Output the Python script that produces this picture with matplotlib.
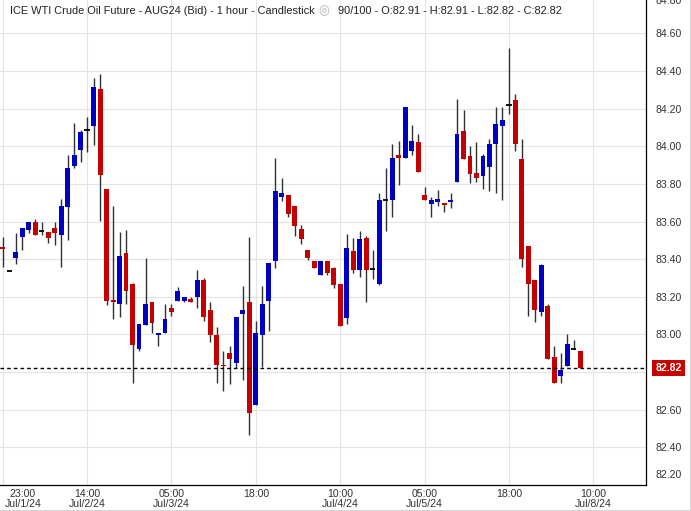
import matplotlib
matplotlib.use("Agg")
import matplotlib.pyplot as plt
import numpy as np
from matplotlib.lines import Line2D
from matplotlib import transforms

plt.rcParams['font.family'] = ['Liberation Sans', 'DejaVu Sans']

# ---- data (hourly candles) ----
opens = [83.46, 83.335, 83.405, 83.52, 83.555, 83.595, 83.55, 83.545, 83.565, 83.53,
         83.675, 83.895, 83.98, 84.085, 84.105, 84.305, 83.775, 83.185, 83.16, 83.435,
         83.27, 82.925, 83.05, 83.17, 82.995, 83.005, 83.14, 83.18, 83.18, 83.19,
         83.20, 83.29, 83.13, 82.995, 82.84, 82.90, 82.85, 83.11, 83.17, 82.625,
         82.995, 83.18, 83.39, 83.73, 83.74, 83.68, 83.56, 83.45, 83.39, 83.315,
         83.39, 83.355, 83.27, 83.085, 83.445, 83.345, 83.515, 83.35, 83.27, 83.715,
         83.715, 83.955, 83.94, 83.975, 84.02, 83.74, 83.695, 83.705, 83.70, 83.705,
         83.81, 84.08, 83.95, 83.86, 83.84, 83.89, 84.01, 84.11, 84.22, 84.245,
         83.93, 83.47, 83.29, 83.12, 83.15, 82.88, 82.78, 82.83, 82.92, 82.91]
highs = [83.52, 83.335, 83.54, 83.565, 83.595, 83.615, 83.595, 83.545, 83.595, 83.72,
         83.955, 84.125, 84.085, 84.155, 84.365, 84.385, 83.775, 83.685, 83.545, 83.555,
         83.275, 83.055, 83.405, 83.17, 83.005, 83.16, 83.16, 83.25, 83.20, 83.20,
         83.34, 83.30, 83.175, 83.04, 82.91, 82.94, 83.09, 83.26, 83.52, 83.07,
         83.26, 83.38, 83.94, 83.83, 83.74, 83.68, 83.58, 83.45, 83.39, 83.39,
         83.39, 83.36, 83.27, 83.535, 83.515, 83.55, 83.525, 83.45, 83.75, 83.885,
         84.01, 84.03, 84.21, 84.115, 84.065, 83.785, 83.73, 83.77, 83.70, 83.75,
         84.25, 84.19, 84.00, 84.02, 83.96, 84.04, 84.21, 84.21, 84.52, 84.28,
         84.04, 83.47, 83.29, 83.375, 83.16, 82.94, 82.90, 83.00, 82.97, 82.91]
lows = [83.36, 83.335, 83.375, 83.45, 83.54, 83.53, 83.53, 83.485, 83.475, 83.36,
        83.50, 83.885, 83.915, 83.97, 84.005, 83.605, 83.155, 83.08, 83.09, 83.16,
        82.74, 82.91, 83.05, 83.005, 82.94, 83.005, 83.10, 83.18, 83.17, 83.17,
        83.14, 83.07, 82.96, 82.74, 82.70, 82.735, 82.82, 82.76, 82.465, 82.625,
        82.825, 83.02, 83.355, 83.71, 83.625, 83.525, 83.48, 83.395, 83.355, 83.315,
        83.315, 83.245, 83.045, 83.055, 83.325, 83.305, 83.175, 83.295, 83.265, 83.55,
        83.625, 83.795, 83.94, 83.955, 83.865, 83.715, 83.625, 83.68, 83.65, 83.67,
        83.81, 83.93, 83.805, 83.81, 83.775, 83.76, 83.75, 83.715, 84.17, 83.975,
        83.36, 83.10, 83.065, 83.10, 82.87, 82.74, 82.74, 82.83, 82.92, 82.82]
closes = [83.455, 83.335, 83.44, 83.565, 83.595, 83.53, 83.55, 83.51, 83.54, 83.685,
          83.885, 83.955, 84.075, 84.085, 84.315, 83.845, 83.18, 83.175, 83.415, 83.23,
          82.945, 83.055, 83.16, 83.06, 83.005, 83.08, 83.12, 83.23, 83.20, 83.17,
          83.29, 83.095, 82.995, 82.84, 82.83, 82.87, 83.09, 83.13, 82.58, 83.005,
          83.16, 83.38, 83.76, 83.75, 83.64, 83.575, 83.505, 83.405, 83.355, 83.39,
          83.325, 83.265, 83.045, 83.46, 83.345, 83.505, 83.345, 83.35, 83.715, 83.715,
          83.94, 83.94, 84.21, 84.03, 83.865, 83.715, 83.715, 83.72, 83.69, 83.715,
          84.065, 83.93, 83.855, 83.83, 83.95, 84.01, 84.12, 84.14, 84.22, 84.01,
          83.40, 83.27, 83.13, 83.37, 82.87, 82.74, 82.81, 82.95, 82.92, 82.82]

grid_idx = [0, 13, 26, 39, 52, 65, 78, 91]
time_labels = ['23:00', '14:00', '05:00', '18:00', '10:00', '05:00', '18:00', '10:00']
date_labels = ['Jul/1/24', 'Jul/2/24', 'Jul/3/24', '', 'Jul/4/24', 'Jul/5/24', '', 'Jul/8/24']
price_ticks = [82.40, 82.60, 82.80, 83.00, 83.20, 83.40, 83.60, 83.80, 84.00, 84.20, 84.40, 84.60]
last_price = 82.82
title_main = 'ICE WTI Crude Oil Future - AUG24 (Bid) - 1 hour - Candlestick'
title_info = '90/100 - O:82.91 - H:82.91 - L:82.82 - C:82.82'

UP = '#0000c4'
DOWN = '#c40000'
WICK = '#2e3236'
GRID = '#e4e4e4'
TXT = '#333333'
LBL = 7.6
PAD = 7.2

W, H = 691, 511
fig = plt.figure(figsize=(W / 100, H / 100), dpi=100)
ax = fig.add_axes([0, 1 - 485 / H, 646 / W, 485 / H])

o = np.array(opens); h = np.array(highs); l = np.array(lows); c = np.array(closes)
x = np.arange(len(o))
up = c > o
dn = c < o
flat = c == o

ax.vlines(x, l, h, color=WICK, lw=1.0, zorder=2)
bw = 0.76
minh = 0.008
ax.bar(x[up], np.maximum(c[up] - o[up], minh), bottom=o[up], width=bw,
       color=UP, zorder=3, linewidth=0)
ax.bar(x[dn], np.maximum(o[dn] - c[dn], minh), bottom=c[dn], width=bw,
       color=DOWN, zorder=3, linewidth=0)
ax.hlines(o[flat], x[flat] - 0.4, x[flat] + 0.4, color='black', lw=1.3, zorder=3)

ax.set_xlim(-0.42, 99.12)
ax.set_ylim(82.200, 84.777)

# the 82.80 label is hidden behind the last-price marker in the reference
ax.set_yticks(price_ticks)
ax.set_yticklabels(['' if abs(p - last_price) < 0.1 else f'{p:.2f}' for p in price_ticks])
ax.set_xticks(grid_idx)
ax.grid(True, color=GRID, lw=0.8)
ax.set_axisbelow(True)
ax.yaxis.tick_right()
ax.tick_params(axis='y', length=0, pad=PAD, labelsize=LBL, labelcolor=TXT)
ax.tick_params(axis='x', length=0, labelbottom=False)
for s in ['left', 'top']:
    ax.spines[s].set_visible(False)
for s in ['right', 'bottom']:
    ax.spines[s].set_color('black')
    ax.spines[s].set_linewidth(0.9)

# extra edge labels (partially shown at chart edges)
ax.annotate('84.80', xy=(1, 1), xycoords='axes fraction', xytext=(PAD, -0.8),
            textcoords='offset points', ha='left', va='center', fontsize=LBL,
            color=TXT, annotation_clip=False)
ax.annotate('82.20', xy=(1, 82.20), xycoords=('axes fraction', 'data'), xytext=(PAD, 7.5),
            textcoords='offset points', ha='left', va='center', fontsize=LBL,
            color=TXT, annotation_clip=False)

# x labels
tr = transforms.blended_transform_factory(ax.transData, ax.transAxes)
off = transforms.ScaledTranslation(0, -3 / 72, fig.dpi_scale_trans)
for i, (gi, tl, dl) in enumerate(zip(grid_idx, time_labels, date_labels)):
    xpos = gi if i > 0 else 3.1
    txt = tl if dl == '' else tl + '\n' + dl
    ax.text(xpos, 0, txt, transform=tr + off, ha='center', va='top', fontsize=LBL,
            color=TXT, linespacing=1.0)

# last price line and label
ax.axhline(last_price, color='black', lw=1.0, ls=(0, (2.6, 2.2)), zorder=4)
ax.annotate(f'{last_price:.2f}', xy=(1, last_price), xycoords=('axes fraction', 'data'),
            xytext=(6.7, 0), textcoords='offset points', ha='left', va='center',
            fontsize=LBL, color='white', fontweight='bold', annotation_clip=False,
            bbox=dict(boxstyle='square,pad=0.28', fc='#c80000', ec='none'))

# title (three pieces chained left to right)
fig.canvas.draw()
r = fig.canvas.get_renderer()
ty = 1 - 11 / H
t1 = fig.text(10 / W, ty, title_main, fontsize=7.9, color='#222222', va='center', ha='left')
e1 = t1.get_window_extent(r)
t2 = fig.text((e1.x1 + 4) / W, ty, '\u25ce', fontsize=9, color='#b0b0b0', va='center', ha='left',
              family=['DejaVu Sans'])
e2 = t2.get_window_extent(r)
fig.text((e2.x1 + 8) / W, ty, title_info, fontsize=7.9, color='#222222', va='center', ha='left')

# outer frame edges
fig.add_artist(Line2D([689.5 / W, 689.5 / W], [0, 1], transform=fig.transFigure, color='#d6d6d6', lw=0.8))
fig.add_artist(Line2D([0, 1], [1.5 / H, 1.5 / H], transform=fig.transFigure, color='#d6d6d6', lw=0.8))

fig.savefig('out.png', dpi=100)
